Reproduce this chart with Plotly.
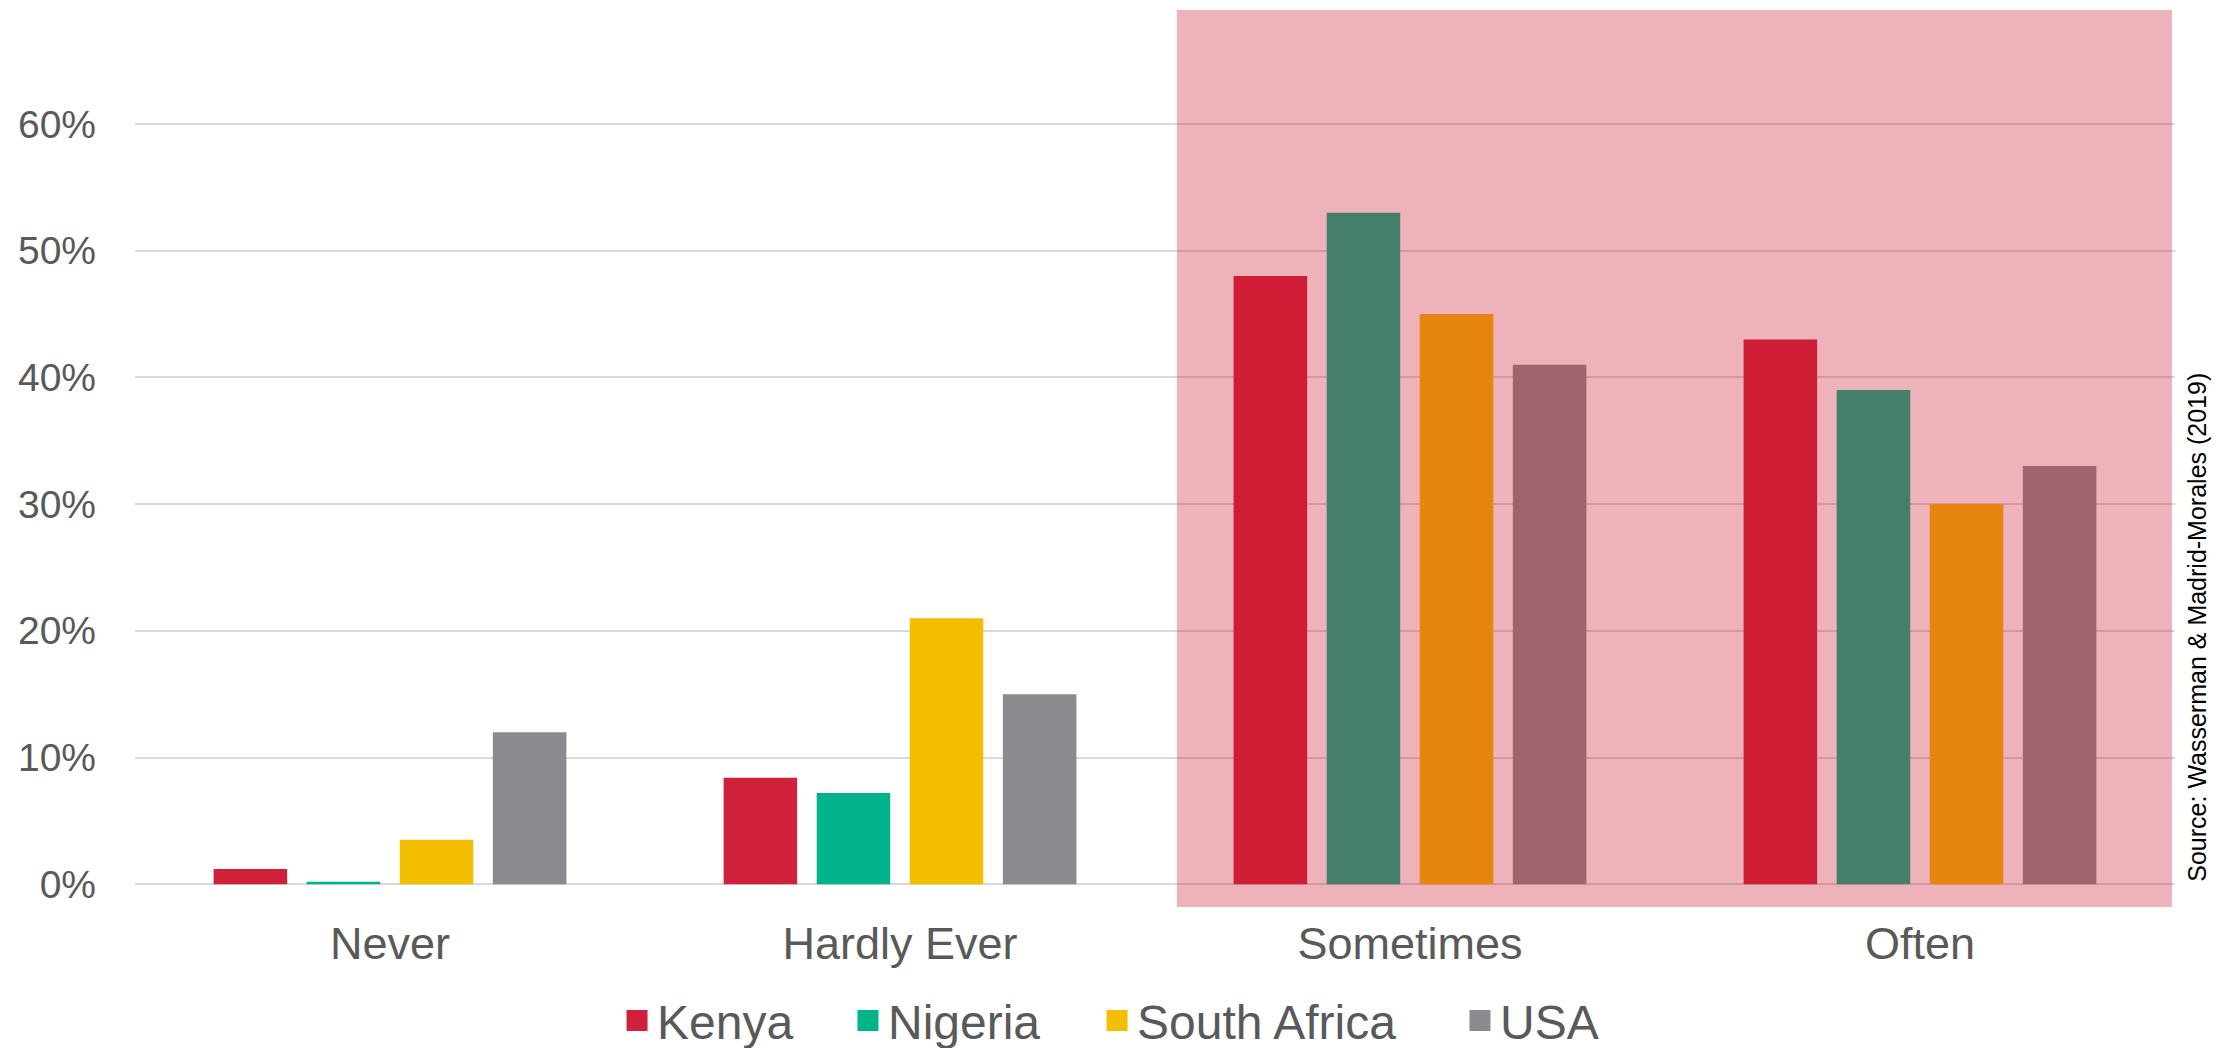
import plotly.graph_objects as go

categories = ["Never", "Hardly Ever", "Sometimes", "Often"]
countries = ["Kenya", "Nigeria", "South Africa", "USA"]
kenya = [1.2, 8.4, 48.0, 43.0]
nigeria = [0.2, 7.2, 53.0, 39.0]
south_africa = [3.5, 21.0, 45.0, 30.0]
usa = [12.0, 15.0, 41.0, 33.0]
y_ticks = [0, 10, 20, 30, 40, 50, 60]
y_tick_labels = ["0%", "10%", "20%", "30%", "40%", "50%", "60%"]
source_text = "Source: Wasserman &amp; Madrid-Morales (2019)"

colors = ["#D0213A", "#00B38A", "#F4BE00", "#898B8E"]
series = [kenya, nigeria, south_africa, usa]
legend_ids = ["legend", "legend2", "legend3", "legend4"]
legend_x = [0.2363, 0.3495, 0.4716, 0.6495]

FONT = "Liberation Sans, Arial, sans-serif"
GREY = "#595959"

fig = go.Figure()
for name, vals, col, lid in zip(countries, series, colors, legend_ids):
    fig.add_trace(go.Bar(
        x=categories, y=vals, name=name, legendgroup=name, showlegend=False,
        marker=dict(color=col, line=dict(width=0)),
    ))
    # legend key (square swatch)
    fig.add_trace(go.Scatter(
        x=[None], y=[None], mode="markers", name=name, legendgroup=name,
        legend=lid, hoverinfo="skip",
        marker=dict(symbol="square", size=16, color=col, line=dict(color=col, width=5)),
    ))

# highlighted region (semi-transparent overlay above the bars)
fig.add_shape(
    type="rect", xref="x", yref="y",
    x0=1.543, x1=3.494, y0=-1.8, y1=69,
    fillcolor="rgba(203,21,45,0.33)", line=dict(width=0), layer="above",
)

fig.add_annotation(
    text=source_text, xref="paper", yref="y",
    x=1.0108, y=0, xanchor="center", yanchor="bottom",
    textangle=-90, showarrow=False,
    font=dict(family=FONT, size=25, color="#000000"),
)

legend_common = dict(
    orientation="h", xanchor="left", y=-0.127, yanchor="middle",
    font=dict(family=FONT, size=48, color=GREY),
    itemwidth=30, itemsizing="trace", bgcolor="rgba(0,0,0,0)",
)

fig.update_layout(
    width=2221, height=1040,
    margin=dict(l=127, r=54, t=2, b=141, autoexpand=False),
    paper_bgcolor="white", plot_bgcolor="white",
    barmode="group", bargap=0.27, bargroupgap=0.21,
    font=dict(family=FONT, color=GREY),
    legend=dict(x=legend_x[0], **legend_common),
    legend2=dict(x=legend_x[1], **legend_common),
    legend3=dict(x=legend_x[2], **legend_common),
    legend4=dict(x=legend_x[3], **legend_common),
    xaxis=dict(
        showgrid=False, showline=False, zeroline=False,
        tickfont=dict(family=FONT, size=45, color=GREY),
        ticklabelstandoff=6,
    ),
    yaxis=dict(
        range=[-1.8, 69], tickvals=y_ticks, ticktext=y_tick_labels,
        showgrid=True, gridcolor="#D9D9D9", gridwidth=2,
        zeroline=False, showline=False,
        tickfont=dict(family=FONT, size=39, color=GREY),
        ticklabelstandoff=38,
    ),
)

fig.write_html("out.html")
